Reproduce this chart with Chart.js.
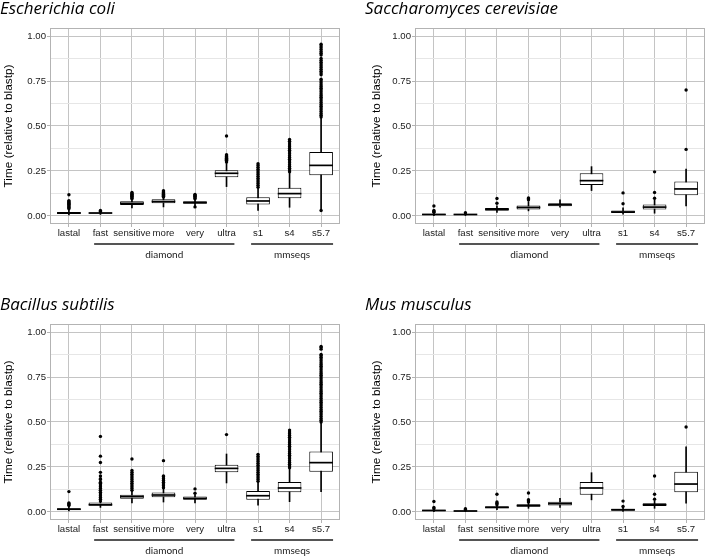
<!DOCTYPE html>
<html>
<head>
<meta charset="utf-8">
<script src="https://cdn.jsdelivr.net/npm/chart.js@4.4.0/dist/chart.umd.min.js"></script>
<style>
html, body { margin: 0; padding: 0; background: #fff; overflow: hidden; }
body { width: 709px; height: 556px; position: relative; }
canvas { position: absolute; }
</style>
</head>
<body>
<canvas id="c0" width="344" height="262" style="left:0;top:0"></canvas>
<canvas id="c1" width="344" height="262" style="left:365px;top:0"></canvas>
<canvas id="c2" width="344" height="262" style="left:0;top:296px"></canvas>
<canvas id="c3" width="344" height="262" style="left:365px;top:296px"></canvas>
<script>
// categories and axis ticks
const cats = ['lastal', 'fast', 'sensitive', 'more', 'very', 'ultra', 's1', 's4', 's5.7'];
const yMajor = [0, 0.25, 0.5, 0.75, 1];
const yMinor = [0.125, 0.375, 0.625, 0.875];

// Escherichia coli
const ecoliLow  = [0.005, 0.008, 0.045, 0.05, 0.055, 0.163, 0.03, 0.048, 0.035];
const ecoliQ1   = [0.011, 0.013, 0.06, 0.071, 0.067, 0.215, 0.064, 0.098, 0.226];
const ecoliMed  = [0.016, 0.016, 0.07, 0.08, 0.074, 0.237, 0.083, 0.124, 0.281];
const ecoliQ3   = [0.022, 0.019, 0.081, 0.092, 0.082, 0.254, 0.104, 0.157, 0.356];
const ecoliHigh = [0.035, 0.024, 0.092, 0.102, 0.093, 0.292, 0.155, 0.24, 0.545];
const ecoliOut = [
  [0.04, 0.045, 0.05, 0.055, 0.06, 0.065, 0.07, 0.075, 0.08, 0.085, 0.118],
  [0.025, 0.03],
  [0.095, 0.1, 0.105, 0.11, 0.115, 0.12, 0.125, 0.13],
  [0.105, 0.11, 0.115, 0.12, 0.125, 0.13, 0.135, 0.14],
  [0.05, 0.095, 0.1, 0.105, 0.11, 0.115, 0.12],
  [0.3, 0.305, 0.31, 0.315, 0.32, 0.325, 0.33, 0.335, 0.34, 0.444],
  [0.16, 0.17, 0.18, 0.19, 0.2, 0.21, 0.22, 0.23, 0.24, 0.25, 0.26, 0.27, 0.28, 0.29],
  [0.245, 0.255, 0.265, 0.275, 0.285, 0.295, 0.305, 0.315, 0.325, 0.335, 0.345, 0.355,
   0.365, 0.375, 0.385, 0.395, 0.405, 0.415, 0.425],
  [0.03, 0.55, 0.56, 0.57, 0.58, 0.59, 0.6, 0.61, 0.62, 0.63, 0.64, 0.65, 0.66, 0.67, 0.68,
   0.69, 0.7, 0.71, 0.72, 0.73, 0.74, 0.75, 0.76, 0.785, 0.795, 0.805, 0.815, 0.825, 0.835,
   0.845, 0.855, 0.865, 0.875, 0.895, 0.905, 0.915, 0.925, 0.935, 0.945, 0.955]
];

// Saccharomyces cerevisiae
const yeastLow  = [0.002, 0.002, 0.02, 0.028, 0.048, 0.141, 0.01, 0.015, 0.056];
const yeastQ1   = [0.005, 0.005, 0.028, 0.036, 0.054, 0.172, 0.016, 0.035, 0.115];
const yeastMed  = [0.008, 0.008, 0.037, 0.047, 0.062, 0.196, 0.022, 0.049, 0.15];
const yeastQ3   = [0.012, 0.011, 0.044, 0.058, 0.07, 0.237, 0.03, 0.063, 0.191];
const yeastHigh = [0.018, 0.015, 0.056, 0.08, 0.09, 0.274, 0.045, 0.09, 0.26];
const yeastOut = [
  [0.02, 0.025, 0.03, 0.055],
  [0.018],
  [0.07, 0.097],
  [0.09, 0.095, 0.1],
  [],
  [],
  [0.068, 0.128],
  [0.098, 0.13, 0.245],
  [0.37, 0.7]
];

// Bacillus subtilis
const bsubLow  = [0.005, 0.025, 0.05, 0.055, 0.05, 0.161, 0.037, 0.057, 0.113];
const bsubQ1   = [0.01, 0.034, 0.073, 0.082, 0.068, 0.22, 0.068, 0.109, 0.224];
const bsubMed  = [0.015, 0.04, 0.085, 0.094, 0.075, 0.242, 0.09, 0.133, 0.274];
const bsubQ3   = [0.021, 0.052, 0.096, 0.108, 0.085, 0.262, 0.116, 0.166, 0.336];
const bsubHigh = [0.03, 0.058, 0.115, 0.13, 0.095, 0.322, 0.165, 0.24, 0.495];
const bsubOut = [
  [0.035, 0.04, 0.045, 0.05, 0.113],
  [0.06, 0.07, 0.08, 0.09, 0.1, 0.11, 0.12, 0.13, 0.14, 0.15, 0.16, 0.165, 0.18, 0.185,
   0.2, 0.22, 0.275, 0.31, 0.42],
  [0.12, 0.13, 0.14, 0.15, 0.16, 0.17, 0.18, 0.19, 0.2, 0.21, 0.22, 0.23, 0.294],
  [0.135, 0.145, 0.155, 0.165, 0.175, 0.185, 0.195, 0.2, 0.285],
  [0.104, 0.128],
  [0.43],
  [0.17, 0.18, 0.19, 0.2, 0.21, 0.22, 0.23, 0.24, 0.25, 0.26, 0.27, 0.28, 0.29, 0.3, 0.31, 0.32],
  [0.245, 0.255, 0.265, 0.275, 0.285, 0.295, 0.305, 0.315, 0.325, 0.335, 0.345, 0.355,
   0.365, 0.375, 0.385, 0.395, 0.405, 0.415, 0.425, 0.435, 0.445, 0.455],
  [0.5, 0.51, 0.52, 0.53, 0.54, 0.55, 0.56, 0.57, 0.58, 0.59, 0.6, 0.61, 0.62, 0.63, 0.64,
   0.65, 0.66, 0.67, 0.68, 0.69, 0.7, 0.71, 0.72, 0.73, 0.74, 0.75, 0.76, 0.77, 0.78, 0.79,
   0.8, 0.81, 0.82, 0.83, 0.84, 0.85, 0.86, 0.87, 0.875, 0.905, 0.915, 0.92]
];

// Mus musculus
const mouseLow  = [0.001, 0.0, 0.012, 0.02, 0.025, 0.067, 0.003, 0.02, 0.048];
const mouseQ1   = [0.004, 0.002, 0.02, 0.028, 0.036, 0.096, 0.007, 0.033, 0.109];
const mouseMed  = [0.008, 0.005, 0.025, 0.035, 0.046, 0.133, 0.012, 0.04, 0.155];
const mouseQ3   = [0.012, 0.008, 0.031, 0.042, 0.057, 0.166, 0.017, 0.048, 0.224];
const mouseHigh = [0.015, 0.01, 0.035, 0.05, 0.075, 0.218, 0.025, 0.06, 0.362];
const mouseOut = [
  [0.018, 0.025, 0.058],
  [0.013, 0.018],
  [0.04, 0.048, 0.055, 0.098],
  [0.055, 0.062, 0.068, 0.105],
  [],
  [],
  [0.03, 0.06],
  [0.07, 0.098, 0.2],
  [0.472]
];

// group brackets under the x axis (axis units)
const brackets = [
  { label: 'diamond', from: 0.8, to: 5.25 },
  { label: 'mmseqs', from: 5.78, to: 8.38 }
];

const SANS = "'Liberation Sans', Arial, sans-serif";
Chart.defaults.font.family = SANS;

const boxExtras = {
  id: 'boxExtras',
  afterDatasetsDraw(chart, args, opts) {
    const ctx = chart.ctx;
    const y = chart.scales.y;
    const meta = chart.getDatasetMeta(1);
    ctx.save();
    ctx.strokeStyle = '#000';
    ctx.lineWidth = 1.7;
    meta.data.forEach((bar, i) => {
      const py = y.getPixelForValue(opts.median[i]);
      ctx.beginPath();
      ctx.moveTo(bar.x - bar.width / 2, py);
      ctx.lineTo(bar.x + bar.width / 2, py);
      ctx.stroke();
    });
    // panel border
    const a = chart.chartArea;
    ctx.strokeStyle = '#b3b3b3';
    ctx.lineWidth = 1;
    ctx.strokeRect(a.left + 0.5, a.top + 0.5, a.right - a.left - 1, a.bottom - a.top - 1);
    ctx.restore();
  },
  afterDraw(chart, args, opts) {
    const ctx = chart.ctx;
    const x = chart.scales.x;
    const a = chart.chartArea;
    ctx.save();
    ctx.fillStyle = '#000';
    ctx.font = "italic 17px 'Open Sans'";
    ctx.textBaseline = 'alphabetic';
    ctx.textAlign = 'left';
    ctx.fillText(opts.title, 0, 14);

    ctx.strokeStyle = '#555';
    ctx.lineWidth = 2;
    ctx.font = '10px Lato';
    ctx.textAlign = 'center';
    ctx.textBaseline = 'middle';
    ctx.fillStyle = '#1a1a1a';
    brackets.forEach(b => {
      const x1 = x.getPixelForValue(b.from);
      const x2 = x.getPixelForValue(b.to);
      ctx.beginPath();
      ctx.moveTo(x1, a.bottom + 20);
      ctx.lineTo(x2, a.bottom + 20);
      ctx.stroke();
      ctx.fillText(b.label, (x1 + x2) / 2, a.bottom + 31);
    });
    ctx.restore();
  }
};

function makeChart(id, title, lo, q1, med, q3, hi, out, titlePad) {
  const boxes = cats.map((c, i) => ({ x: i, y: [q1[i], q3[i]] }));
  const whiskers = cats.map((c, i) => ({ x: i, y: [lo[i], hi[i]] }));
  const points = [];
  out.forEach((vals, i) => vals.forEach(v => points.push({ x: i, y: v })));
  const isMajor = v => yMajor.includes(v);

  new Chart(document.getElementById(id), {
    type: 'bar',
    data: {
      datasets: [
        { type: 'scatter', data: points, pointRadius: 1.7, pointBackgroundColor: '#000',
          pointBorderWidth: 0, order: 1 },
        { data: boxes, backgroundColor: '#fff', borderColor: '#000', borderWidth: 1,
          borderSkipped: false, grouped: false, categoryPercentage: 1, barPercentage: 0.75, order: 2 },
        { data: whiskers, backgroundColor: '#000', barThickness: 1, grouped: false, order: 3 }
      ]
    },
    options: {
      responsive: false,
      animation: false,
      layout: { padding: { top: 28, right: 1, left: 0, bottom: 0 } },
      plugins: {
        legend: { display: false },
        tooltip: { enabled: false },
        boxExtras: { title: title, median: med }
      },
      scales: {
        x: {
          type: 'linear', min: -0.6, max: 8.6, offset: false,
          afterBuildTicks: s => { s.ticks = cats.map((c, i) => ({ value: i })); },
          afterFit: s => { s.height = 38; },
          ticks: { callback: v => cats[v], autoSkip: false, maxRotation: 0, padding: 1,
                   color: '#1a1a1a', font: { family: SANS, size: 9.6 } },
          grid: { color: '#c4c4c4', tickLength: 3, tickColor: '#b3b3b3', offset: false },
          border: { display: false }
        },
        y: {
          min: -0.045, max: 1.045,
          afterBuildTicks: s => { s.ticks = yMajor.concat(yMinor).sort().map(v => ({ value: v })); },
          afterFit: s => { s.width = 50; },
          ticks: { callback: v => isMajor(v) ? v.toFixed(2) : '', autoSkip: false, padding: 1,
                   color: '#1a1a1a', font: { family: SANS, size: 9.6 } },
          grid: {
            color: c => isMajor(c.tick.value) ? '#c4c4c4' : '#e6e6e6',
            tickColor: c => isMajor(c.tick.value) ? '#b3b3b3' : 'rgba(0,0,0,0)',
            tickLength: 3
          },
          border: { display: false },
          title: { display: true, text: 'Time (relative to blastp)', color: '#000',
                   font: { family: SANS, size: 11.8 }, padding: { top: titlePad, bottom: 0 } }
        }
      }
    },
    plugins: [boxExtras]
  });
}

makeChart('c0', 'Escherichia coli', ecoliLow, ecoliQ1, ecoliMed, ecoliQ3, ecoliHigh, ecoliOut, 1.6);
makeChart('c1', 'Saccharomyces cerevisiae', yeastLow, yeastQ1, yeastMed, yeastQ3, yeastHigh, yeastOut, 4.4);
makeChart('c2', 'Bacillus subtilis', bsubLow, bsubQ1, bsubMed, bsubQ3, bsubHigh, bsubOut, 1.6);
makeChart('c3', 'Mus musculus', mouseLow, mouseQ1, mouseMed, mouseQ3, mouseHigh, mouseOut, 4.4);
</script>
</body>
</html>
